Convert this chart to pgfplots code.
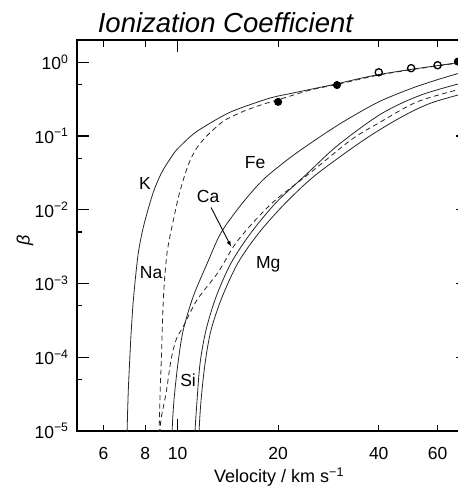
\documentclass[border=0pt]{standalone}
\usepackage{pgfplots}
\pgfplotsset{compat=1.18}
\usepackage{fontspec}
\setmainfont{Liberation Sans}
\begin{document}
\begin{tikzpicture}
\begin{axis}[
  at={(0pt,0pt)}, anchor=south west,
  xmode=log, ymode=log,
  scale only axis, width=391pt, height=391pt,
  xmin=5, xmax=74, ymin=1e-5, ymax=2,
  clip=true,
  axis line style={line width=1.2pt},
  xtick={10}, xticklabels={10},
  extra x ticks={6,8,20,40,60}, extra x tick labels={6,8,20,40,60},
  extra x tick style={major tick length=6.5pt},
  minor xtick={},
  ytick={1e-5,1e-4,1e-3,1e-2,1e-1,1},
  yticklabels={10\textsuperscript{−5},10\textsuperscript{−4},10\textsuperscript{−3},10\textsuperscript{−2},10\textsuperscript{−1},10\textsuperscript{0}},
  minor ytick={5e-5,5e-4,5e-3,5e-2,0.5},
  major tick length=12pt, minor tick length=5.5pt,
  tick style={line width=1.2pt, black},
  tick label style={font=\fontsize{17.5}{20}\selectfont},
  xticklabel style={yshift=-13pt},
  yticklabel style={xshift=-5pt},
  xlabel={Velocity / km s\textsuperscript{−1}},
  xlabel style={font=\fontsize{18}{20}\selectfont, at={(axis description cs:0.517,-0.118)}, anchor=center},
  ylabel={\textit{β}},
  ylabel style={font=\fontsize{18}{20}\selectfont, at={(axis description cs:-0.133,0.488)}, anchor=center},
  title={\textit{Ionization Coefficient}},
  title style={font=\fontsize{27.5}{30}\selectfont, at={(axis description cs:0.381,1.028)}, anchor=center},
  every axis plot/.append style={line width=0.8pt, black!85, smooth, tension=0.5},
]
% K (solid)
\addplot[no markers] coordinates {
(7.01,1e-7) (7.04,4e-6) (7.07,1.2e-5) (7.12,3.5e-5) (7.18,8e-5) (7.25,1.9e-4)
(7.35,5e-4) (7.46,1.05e-3) (7.62,2.5e-3) (7.8,4.5e-3) (8.0,7.3e-3) (8.45,0.017)
(8.93,0.031) (9.5,0.049) (10.0,0.067) (11.2,0.108) (12.6,0.152) (14.2,0.205)
(15.9,0.251) (19.05,0.33) (22,0.38) (26.3,0.45) (30,0.51) (35,0.60) (40,0.68)
(50,0.80) (60,0.90) (74,1.03)};
% Na (dashed)
\addplot[no markers, dash pattern=on 5pt off 3.5pt] coordinates {
(8.76,1e-7) (8.79,5e-6) (8.82,1.3e-5) (8.87,3.5e-5) (8.93,8e-5) (9.05,5e-4)
(9.15,1.2e-3) (9.3,2.6e-3) (9.5,4.5e-3) (9.7,7e-3) (10.1,0.016) (10.75,0.04)
(11.4,0.068) (12.1,0.095) (13.0,0.13) (13.9,0.165) (15.9,0.22) (18.3,0.275)
(20,0.31) (25,0.42) (30,0.50) (40,0.67) (50,0.79) (60,0.89) (74,1.02)};
% Fe (solid)
\addplot[no markers] coordinates {
(9.56,1e-7) (9.6,4e-6) (9.63,1e-5) (9.76,2.7e-5) (10.03,8.4e-5) (10.39,2.3e-4)
(11.13,6.6e-4) (12.34,2.0e-3) (13.5,4.9e-3) (15.5,0.0117) (18.05,0.0256)
(21.87,0.052) (26.9,0.10) (32,0.165) (40,0.29) (50,0.44) (60,0.58) (74,0.77)};
% Ca (dashed)
\addplot[no markers, dash pattern=on 5pt off 3.5pt] coordinates {
(8.8,1e-7) (8.83,5e-6) (8.87,1e-5) (8.93,1.5e-5) (9.24,3.3e-5) (9.56,9.2e-5)
(9.90,1.73e-4) (10.39,2.59e-4) (11.44,6.0e-4) (13.2,1.4e-3) (14.7,3.16e-3)
(16.3,5.7e-3) (19.4,0.0129) (25.0,0.0319) (33.1,0.089) (40,0.15) (52.4,0.293) (74,0.46)};
% Si (solid)
\addplot[no markers] coordinates {
(11.2,1e-7) (11.25,4e-6) (11.28,1e-5) (11.44,2.65e-5) (11.68,8.4e-5) (12.17,2.36e-4)
(13.04,6.6e-4) (14.46,1.9e-3) (16.6,4.9e-3) (19.72,0.0125) (24.25,0.030)
(30.2,0.075) (40.7,0.20) (53.6,0.36) (74,0.55)};
% Mg (solid)
\addplot[no markers] coordinates {
(11.55,1e-7) (11.58,4e-6) (11.6,1e-5) (11.76,2.65e-5) (12.09,8.4e-5) (12.6,2.36e-4)
(13.6,6.6e-4) (15.18,1.92e-3) (17.54,4.9e-3) (21.1,0.0125) (26.0,0.030)
(36.2,0.089) (46.7,0.18) (57.4,0.28) (74,0.39)};
% measured points
\addplot[only marks, mark=*, mark size=3.6pt, black] coordinates {(20,0.29) (30,0.49) (69,1.02)};
\addplot[only marks, mark=o, mark size=3.6pt, line width=1.3pt, black, mark options={fill=white}] coordinates {(40,0.73) (50,0.83) (60,0.91)};
% labels
\node[font=\fontsize{17.5}{20}\selectfont] at (axis cs:7.99,0.0226) {K};
\node[font=\fontsize{17.5}{20}\selectfont] at (axis cs:17.06,0.0436) {Fe};
\node[font=\fontsize{17.5}{20}\selectfont] at (axis cs:12.34,0.0151) {Ca};
\node[font=\fontsize{17.5}{20}\selectfont] at (axis cs:8.33,1.40e-3) {Na};
\node[font=\fontsize{17.5}{20}\selectfont] at (axis cs:18.67,1.80e-3) {Mg};
\node[font=\fontsize{17.5}{20}\selectfont] at (axis cs:10.75,4.95e-5) {Si};
\draw[-latex, line width=0.9pt, black] (axis cs:12.6,0.0107) -- (axis cs:14.46,3.16e-3);
\end{axis}
\pgfresetboundingbox
\path (-77pt,-60pt) rectangle (381pt,431pt);
\end{tikzpicture}
\end{document}
